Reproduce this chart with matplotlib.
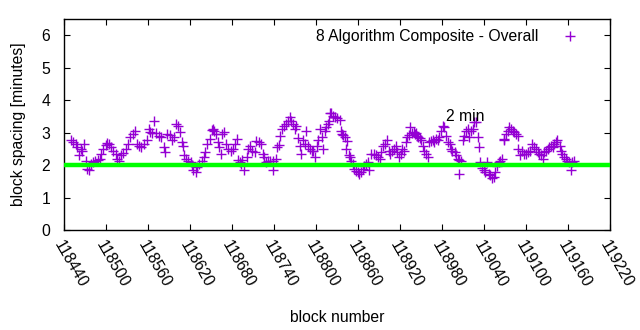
import matplotlib
matplotlib.use('Agg')
import matplotlib.pyplot as plt

plt.rcParams['font.family'] = ['Liberation Sans', 'DejaVu Sans']
plt.rcParams['font.size'] = 11.3

# block numbers and block spacing (minutes)
blocks = [
    118450, 118453, 118457, 118459, 118461, 118464, 118466, 118469, 118471, 118473,
    118476, 118478, 118482, 118485, 118488, 118491, 118493, 118496, 118500, 118502,
    118504, 118507, 118510, 118514, 118516, 118519, 118521, 118525, 118528, 118531,
    118534, 118538, 118541, 118544, 118547, 118550, 118554, 118558, 118561, 118563,
    118566, 118568, 118571, 118576, 118579, 118583, 118584, 118587, 118591, 118595,
    118597, 118600, 118603, 118606, 118609, 118610, 118611, 118614, 118617, 118621,
    118623, 118625, 118628, 118630, 118633, 118637, 118640, 118642, 118645, 118648,
    118651, 118653, 118655, 118657, 118660, 118661, 118664, 118666, 118668, 118671,
    118675, 118678, 118681, 118684, 118687, 118689, 118691, 118693, 118695, 118697,
    118701, 118703, 118706, 118709, 118713, 118715, 118718, 118721, 118724, 118726,
    118729, 118732, 118735, 118738, 118739, 118743, 118745, 118747, 118749, 118752,
    118754, 118757, 118760, 118763, 118765, 118767, 118770, 118772, 118775, 118777,
    118779, 118782, 118784, 118786, 118789, 118791, 118794, 118796, 118798, 118801,
    118803, 118806, 118808, 118810, 118813, 118815, 118817, 118819, 118820, 118822,
    118824, 118827, 118830, 118834, 118836, 118837, 118839, 118842, 118843, 118845,
    118847, 118848, 118850, 118853, 118855, 118857, 118860, 118862, 118865, 118867,
    118869, 118872, 118874, 118876, 118879, 118883, 118886, 118888, 118891, 118893,
    118896, 118899, 118902, 118904, 118906, 118909, 118911, 118914, 118916, 118918,
    118921, 118923, 118926, 118928, 118930, 118933, 118935, 118937, 118940, 118942,
    118943, 118945, 118946, 118948, 118950, 118953, 118955, 118957, 118960, 118962,
    118964, 118967, 118969, 118972, 118974, 118976, 118979, 118981, 118983, 118986,
    118988, 118991, 118993, 118995, 118998, 119000, 119003, 119004, 119005, 119007,
    119010, 119012, 119014, 119017, 119019, 119022, 119024, 119026, 119029, 119031,
    119033, 119035, 119037, 119040, 119042, 119044, 119047, 119049, 119051, 119054,
    119056, 119059, 119061, 119063, 119066, 119068, 119069, 119071, 119074, 119076,
    119079, 119081, 119083, 119086, 119088, 119089, 119092, 119094, 119097, 119100,
    119103, 119106, 119109, 119112, 119114, 119117, 119119, 119121, 119124, 119126,
    119129, 119131, 119133, 119136, 119138, 119140, 119143, 119145, 119148, 119150,
    119152, 119155, 119157, 119159, 119162, 119164, 119166, 119169,
]
spacing = [
    2.78, 2.70, 2.65, 2.55, 2.30, 2.50, 2.45, 2.65, 2.14, 1.89,
    1.84, 2.04, 2.09, 2.14, 2.16, 2.20, 2.35, 2.50, 2.63, 2.68,
    2.65, 2.57, 2.45, 2.35, 2.20, 2.12, 2.30, 2.37, 2.50, 2.65,
    2.86, 2.96, 3.06, 2.65, 2.60, 2.55, 2.65, 2.78, 3.11, 3.01,
    3.00, 3.37, 3.00, 2.90, 2.86, 2.55, 2.40, 2.96, 2.92, 2.76,
    2.86, 3.27, 3.20, 3.01, 2.70, 2.60, 2.30, 2.20, 2.14, 2.09,
    2.00, 1.84, 1.79, 1.95, 2.04, 2.14, 2.25, 2.40, 2.65, 2.80,
    3.08, 3.11, 3.05, 2.96, 2.70, 2.55, 2.35, 2.96, 3.01, 2.65,
    2.50, 2.45, 2.50, 2.65, 2.81, 2.15, 2.10, 2.05, 2.15, 1.84,
    2.25, 2.50, 2.60, 2.45, 2.40, 2.75, 2.70, 2.65, 2.35, 2.25,
    2.09, 2.14, 2.14, 2.14, 1.84, 2.20, 2.55, 2.62, 2.90, 3.10,
    3.22, 3.28, 3.35, 3.47, 3.37, 3.27, 3.12, 3.20, 2.85, 2.60,
    2.35, 2.76, 2.65, 3.06, 2.60, 2.50, 2.45, 2.45, 2.25, 2.60,
    2.76, 3.11, 2.86, 2.50, 3.06, 3.16, 3.27, 3.35, 3.62, 3.62,
    3.52, 3.47, 3.45, 3.40, 3.06, 2.96, 2.92, 2.86, 2.50, 2.75,
    2.30, 2.25, 2.14, 2.04, 1.89, 1.82, 1.79, 1.74, 1.79, 1.89,
    1.98, 2.04, 2.09, 1.84, 2.35, 2.35, 2.30, 2.25, 2.20, 2.40,
    2.60, 2.65, 2.76, 2.45, 2.35, 2.45, 2.50, 2.60, 2.40, 2.25,
    2.35, 2.50, 2.45, 2.70, 2.86, 2.92, 3.16, 3.00, 3.01, 2.96,
    3.00, 2.90, 2.86, 2.85, 2.76, 2.60, 2.45, 2.35, 2.25, 2.70,
    2.75, 2.78, 2.70, 2.80, 2.76, 2.86, 3.06, 3.22, 3.17, 2.91,
    2.70, 2.65, 2.50, 2.45, 2.40, 2.30, 2.20, 2.15, 1.74, 2.14,
    2.76, 2.90, 3.06, 3.11, 2.86, 3.06, 3.11, 3.32, 3.32, 2.86,
    2.55, 2.09, 1.90, 1.84, 1.80, 2.09, 1.74, 1.70, 1.60, 1.63,
    1.80, 1.98, 2.09, 2.14, 2.20, 2.76, 2.80, 2.95, 3.06, 3.16,
    3.11, 3.06, 3.01, 2.96, 2.91, 2.50, 2.30, 2.45, 2.35, 2.35,
    2.40, 2.45, 2.65, 2.55, 2.50, 2.40, 2.35, 2.30, 2.20, 2.40,
    2.45, 2.50, 2.55, 2.60, 2.55, 2.65, 2.71, 2.76, 2.60, 2.45,
    2.35, 2.25, 2.20, 2.14, 2.09, 1.84, 2.09, 2.14,
]
target = 2.0
xticks = list(range(118440, 119221, 60))

fig = plt.figure(figsize=(6.4, 3.3), dpi=100)
ax = fig.add_axes([0.1, 0.303, 0.853, 0.639])

ax.plot(blocks, spacing, '+', color='#9400D3', markersize=6.5, mew=1.0,
        label='8 Algorithm Composite - Overall', zorder=2)
ax.axhline(target, color='#00FF00', lw=3.2, zorder=3)
ax.text(118986, 3.5, '2 min', ha='left', va='center')

ax.set_xlim(118440, 119220)
ax.set_ylim(0, 6.5)
ax.set_xticks(xticks)
ax.set_xticklabels([str(t) for t in xticks], rotation=-60, ha='left', va='top',
                   rotation_mode='anchor')
ax.set_yticks(range(0, 7))
ax.tick_params(direction='in', length=4, top=True, right=True, width=0.8)
ax.tick_params(axis='x', pad=6)
ax.tick_params(axis='y', pad=10)
for s in ax.spines.values():
    s.set_linewidth(1.0)

ax.set_xlabel('block number', labelpad=14)
ax.set_ylabel('block spacing [minutes]', labelpad=11)
ax.legend(loc='upper right', bbox_to_anchor=(0.975, 1.02), frameon=False,
          markerfirst=False, handlelength=1.5, handletextpad=1.3)

fig.savefig('out.png', dpi=100)
